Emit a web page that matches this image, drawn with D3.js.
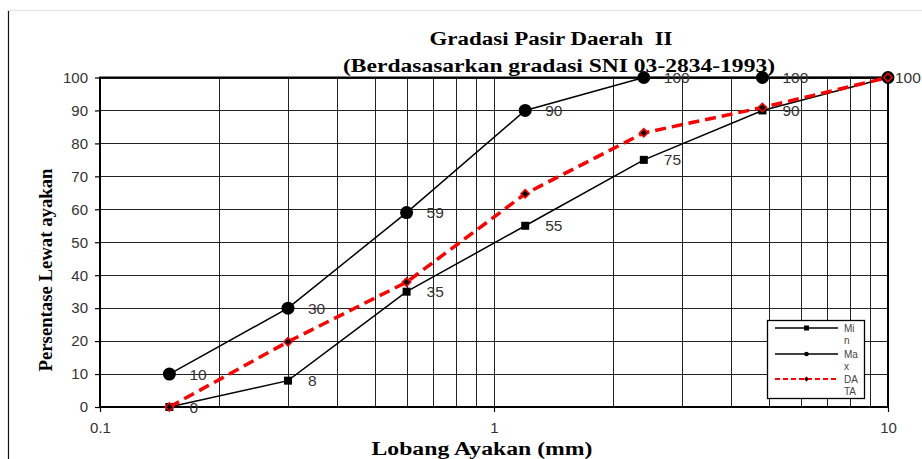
<!DOCTYPE html>
<html>
<head>
<meta charset="utf-8">
<script src="https://cdn.jsdelivr.net/npm/d3@7"></script>
<style>
  body { margin: 0; background: #fff; }
  svg { display: block; }
</style>
</head>
<body>
<div id="chart"></div>
<script>
// sieve sizes (mm) and percent passing
var sizes = [0.15, 0.3, 0.6, 1.2, 2.4, 4.8, 10];
var minVals = [0, 8, 35, 55, 75, 90, 100];
var maxVals = [10, 30, 59, 90, 100, 100, 100];
var dataVals = [0, 19.8, 37.9, 64.7, 83.2, 90.9, 100];
var yTicks = [0, 10, 20, 30, 40, 50, 60, 70, 80, 90, 100];
var xTicks = [0.1, 1, 10];
var legendNames = [["Mi", "n"], ["Ma", "x"], ["DA", "TA"]];

var W = 922, H = 459;
// note: "top" is a reserved window prop, so use pTop etc
var pLeft = 100, pRight = 888, pTop = 77.5, pBottom = 407;

var svg = d3.select("#chart").append("svg")
    .attr("width", W).attr("height", H);

var x = d3.scaleLog().domain([0.1, 10]).range([pLeft, pRight]);
var y = d3.scaleLinear().domain([0, 100]).range([pBottom, pTop]);

// outer frame bits
svg.append("line").attr("x1", 8.5).attr("x2", 8.5).attr("y1", 10).attr("y2", H)
    .attr("stroke", "#111").attr("stroke-width", 1.2);
svg.append("line").attr("x1", 8).attr("x2", W).attr("y1", 10.5).attr("y2", 10.5)
    .attr("stroke", "#e3e3e3").attr("stroke-width", 1);

// minor log grid
var gridX = [];
[0.1, 1].forEach(function(d){
    for (var k = 2; k <= 10; k++) gridX.push(d * k);
});
var grid = svg.append("g");
grid.selectAll(".vx").data(gridX).enter().append("line")
    .attr("x1", d => Math.round(x(d)) + 0.5).attr("x2", d => Math.round(x(d)) + 0.5)
    .attr("y1", pTop).attr("y2", pBottom)
    .attr("stroke", "#222").attr("stroke-width", 1);
grid.selectAll(".hy").data(yTicks).enter().append("line")
    .attr("x1", pLeft).attr("x2", pRight)
    .attr("y1", d => Math.round(y(d)) + 0.5).attr("y2", d => Math.round(y(d)) + 0.5)
    .attr("stroke", "#222").attr("stroke-width", 1);

// plot border
svg.append("rect").attr("x", pLeft).attr("y", pTop)
    .attr("width", pRight - pLeft).attr("height", pBottom - pTop)
    .attr("fill", "none").attr("stroke", "#000").attr("stroke-width", 2);

// axes
var yAxis = svg.append("g").attr("transform", "translate(" + pLeft + ",0)")
    .call(d3.axisLeft(y).tickValues(yTicks).tickSize(5).tickPadding(7).tickFormat(d3.format("d")));
var xAxis = svg.append("g").attr("transform", "translate(0," + pBottom + ")")
    .call(d3.axisBottom(x).tickValues(xTicks).tickSize(5).tickPadding(10).tickFormat(d => String(d)));
[yAxis, xAxis].forEach(function(a){
    a.select(".domain").remove();
    a.selectAll(".tick line").attr("stroke", "#000").attr("stroke-width", 1.2);
    a.selectAll("text").attr("font-family", "Liberation Sans, Arial, sans-serif")
        .attr("font-size", 15).attr("fill", "#333");
});

// series lines
var line = function(vals){
    return d3.line().x((d, i) => x(sizes[i])).y(d => y(d))(vals);
};
svg.append("path").attr("d", line(minVals)).attr("fill", "none")
    .attr("stroke", "#000").attr("stroke-width", 1.5);
svg.append("path").attr("d", line(maxVals)).attr("fill", "none")
    .attr("stroke", "#000").attr("stroke-width", 1.5);

// markers Min (squares)
svg.selectAll(".mn").data(minVals).enter().append("rect")
    .attr("x", (d, i) => x(sizes[i]) - 4).attr("y", d => y(d) - 4)
    .attr("width", 8).attr("height", 8).attr("fill", "#000");
// markers Max (circles)
svg.selectAll(".mx").data(maxVals).enter().append("circle")
    .attr("cx", (d, i) => x(sizes[i])).attr("cy", d => y(d)).attr("r", 6.5)
    .attr("fill", "#000");

// DATA dashed red line
svg.append("path").attr("d", line(dataVals)).attr("fill", "none")
    .attr("stroke", "#ff0000").attr("stroke-width", 3.5)
    .attr("stroke-dasharray", "11,6");
var diamond = d3.symbol().type(d3.symbolDiamond2).size(45);
svg.selectAll(".dt").data(dataVals).enter().append("path")
    .attr("d", diamond)
    .attr("transform", (d, i) => "translate(" + x(sizes[i]) + "," + y(d) + ")")
    .attr("fill", "#000").attr("stroke", "#ff0000").attr("stroke-width", 1.5);

// data labels
var labelFont = "Liberation Sans, Arial, sans-serif";
function labels(vals, skipLast){
    vals.forEach(function(v, i){
        if (skipLast && i === vals.length - 1) return;
        var lx = x(sizes[i]) + 20;
        if (i === vals.length - 1) lx = 895;
        svg.append("text").attr("x", lx).attr("y", y(v) + 5.5)
            .attr("font-family", labelFont).attr("font-size", 15.5).attr("fill", "#333")
            .text(v);
    });
}
labels(maxVals, false);
labels(minVals, true);

// titles
var serif = "Liberation Serif, Times New Roman, serif";
svg.append("text").attr("x", 551).attr("y", 45).attr("text-anchor", "middle")
    .attr("font-family", serif).attr("font-weight", "bold").attr("font-size", 18)
    .style("white-space", "pre")
    .attr("textLength", 243).attr("lengthAdjust", "spacingAndGlyphs")
    .text("Gradasi Pasir Daerah  II");
svg.append("text").attr("x", 559).attr("y", 72).attr("text-anchor", "middle")
    .attr("font-family", serif).attr("font-weight", "bold").attr("font-size", 18)
    .attr("textLength", 432).attr("lengthAdjust", "spacingAndGlyphs")
    .text("(Berdasasarkan gradasi SNI 03-2834-1993)");
svg.append("text").attr("x", 482).attr("y", 455).attr("text-anchor", "middle")
    .attr("font-family", serif).attr("font-weight", "bold").attr("font-size", 18)
    .attr("textLength", 221).attr("lengthAdjust", "spacingAndGlyphs")
    .text("Lobang Ayakan (mm)");
svg.append("text").attr("transform", "translate(52,270) rotate(-90)")
    .attr("text-anchor", "middle")
    .attr("font-family", serif).attr("font-weight", "bold").attr("font-size", 18)
    .attr("textLength", 203).attr("lengthAdjust", "spacingAndGlyphs")
    .text("Persentase Lewat ayakan");

// legend
var lg = svg.append("g").attr("transform", "translate(767,320)");
lg.append("rect").attr("x", 0.5).attr("y", 0.5).attr("width", 97).attr("height", 78)
    .attr("fill", "#fff").attr("stroke", "#000").attr("stroke-width", 1.3);
var legRows = [
    {y: 8, color: "#000", dash: null, mark: "square"},
    {y: 34, color: "#000", dash: null, mark: "circle"},
    {y: 59, color: "#ff0000", dash: "5,3", mark: "diamond"}
];
legRows.forEach(function(r, i){
    lg.append("line").attr("x1", 8).attr("x2", 71).attr("y1", r.y).attr("y2", r.y)
        .attr("stroke", r.color).attr("stroke-width", r.dash ? 2 : 1.5)
        .attr("stroke-dasharray", r.dash);
    if (r.mark === "square") {
        lg.append("rect").attr("x", 37).attr("y", r.y - 2.5).attr("width", 5).attr("height", 5).attr("fill", "#000");
    } else if (r.mark === "circle") {
        lg.append("circle").attr("cx", 39.5).attr("cy", r.y).attr("r", 2.3).attr("fill", "#000");
    } else {
        lg.append("path").attr("d", d3.symbol().type(d3.symbolDiamond2).size(14))
            .attr("transform", "translate(39.5," + r.y + ")").attr("fill", "#000")
            .attr("stroke", "#ff0000").attr("stroke-width", 0.6);
    }
    legendNames[i].forEach(function(t, j){
        lg.append("text").attr("x", 77).attr("y", r.y + 3.5 + j * 12)
            .attr("font-family", labelFont).attr("font-size", 10).attr("fill", "#444")
            .text(t);
    });
});
</script>
</body>
</html>
